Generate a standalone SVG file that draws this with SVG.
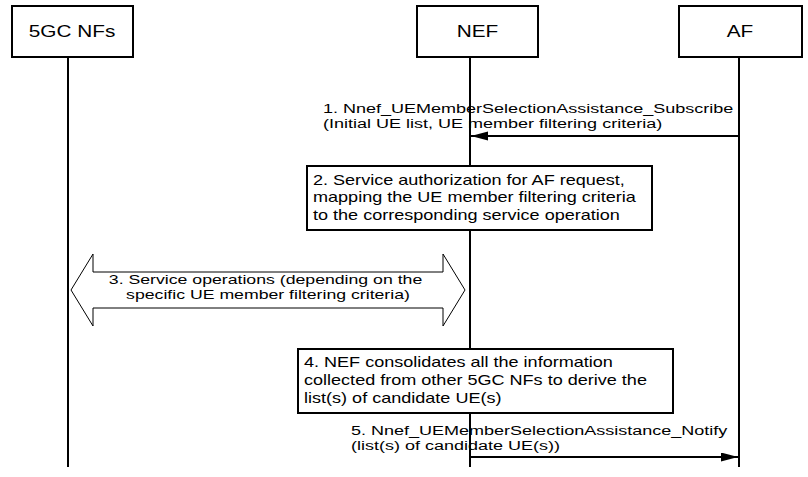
<svg xmlns="http://www.w3.org/2000/svg" width="808" height="477" viewBox="0 0 808 477">
  <style>
    .bg { fill: #ffffff; }
    .box { fill: #ffffff; stroke: #000000; stroke-width: 2; }
    .life { stroke: #000000; stroke-width: 2; fill: none; }
    .msg { stroke: #000000; stroke-width: 2; fill: none; }
    .block { fill: #ffffff; stroke: #000000; stroke-width: 1; }
    text { font-family: "Liberation Sans", Arial, sans-serif; fill: #000000; }
    .hdr { font-size: 16px; text-anchor: middle; }
    .lbl { font-size: 14px; }
    .tight { font-size: 13.5px; }
    .mid { text-anchor: middle; }
  </style>
  <defs>
    <marker id="arrowEnd" markerUnits="userSpaceOnUse" markerWidth="18" markerHeight="10" refX="17" refY="4.5" orient="auto">
      <path d="M0,0 L17,4.5 L0,9 z" fill="#000000"/>
    </marker>
  </defs>

  <rect class="bg" x="0" y="0" width="808" height="477"/>

  <!-- participant heads and lifelines -->
  <g id="node-5gc">
    <rect class="box" x="12" y="6" width="121" height="51"/>
    <text class="hdr" transform="translate(72 37) scale(1.3 1)">5GC NFs</text>
    <line class="life" x1="68" y1="57" x2="68" y2="467"/>
  </g>
  <g id="node-nef">
    <rect class="box" x="417" y="6" width="121" height="51"/>
    <text class="hdr" transform="translate(477.5 37) scale(1.3 1)">NEF</text>
    <line class="life" x1="470" y1="57" x2="470" y2="467"/>
  </g>
  <g id="node-af">
    <rect class="box" x="679" y="6" width="123" height="51"/>
    <text class="hdr" transform="translate(740 37) scale(1.3 1)">AF</text>
    <line class="life" x1="739" y1="57" x2="739" y2="467"/>
  </g>

  <!-- step 2: NEF local processing -->
  <g id="node-step2">
    <rect class="box" x="307" y="166" width="345" height="64"/>
    <text class="lbl" transform="translate(313 185) scale(1.29 1)">
      <tspan x="0" y="0">2. Service authorization for AF request,</tspan>
      <tspan x="0" y="17.5">mapping the UE member filtering criteria</tspan>
      <tspan x="0" y="35">to the corresponding service operation</tspan>
    </text>
  </g>

  <!-- step 3: service operations between 5GC NFs and NEF -->
  <g id="node-step3">
    <path class="block" d="M71,290 L93,254 L93,272 L443,272 L443,254 L465,290 L443,326 L443,308 L93,308 L93,326 Z"/>
    <text class="tight mid" transform="translate(268 283.5) scale(1.31 1)">
      <tspan x="0" y="0">3. Service operations (depending on the</tspan>
      <tspan x="0" y="15.5">specific UE member filtering criteria)</tspan>
    </text>
  </g>

  <!-- step 4: NEF consolidation -->
  <g id="node-step4">
    <rect class="box" x="298" y="349" width="375" height="64"/>
    <text class="lbl" transform="translate(304 367) scale(1.29 1)">
      <tspan x="0" y="0">4. NEF consolidates all the information</tspan>
      <tspan x="0" y="18">collected from other 5GC NFs to derive the</tspan>
      <tspan x="0" y="36">list(s) of candidate UE(s)</tspan>
    </text>
  </g>

  <!-- messages -->
  <g id="connectors">
    <line class="msg" x1="739" y1="136" x2="471" y2="136" marker-end="url(#arrowEnd)"/>
    <text class="tight" transform="translate(323 112.5) scale(1.335 1)">
      <tspan x="0" y="0">1. Nnef_UEMemberSelectionAssistance_Subscribe</tspan>
      <tspan x="0" y="15.5">(Initial UE list, UE member filtering criteria)</tspan>
    </text>

    <line class="msg" x1="470" y1="457" x2="738" y2="457" marker-end="url(#arrowEnd)"/>
    <text class="tight" transform="translate(351 434.5) scale(1.335 1)">
      <tspan x="0" y="0">5. Nnef_UEMemberSelectionAssistance_Notify</tspan>
      <tspan x="0" y="15.5">(list(s) of candidate UE(s))</tspan>
    </text>
  </g>
</svg>
